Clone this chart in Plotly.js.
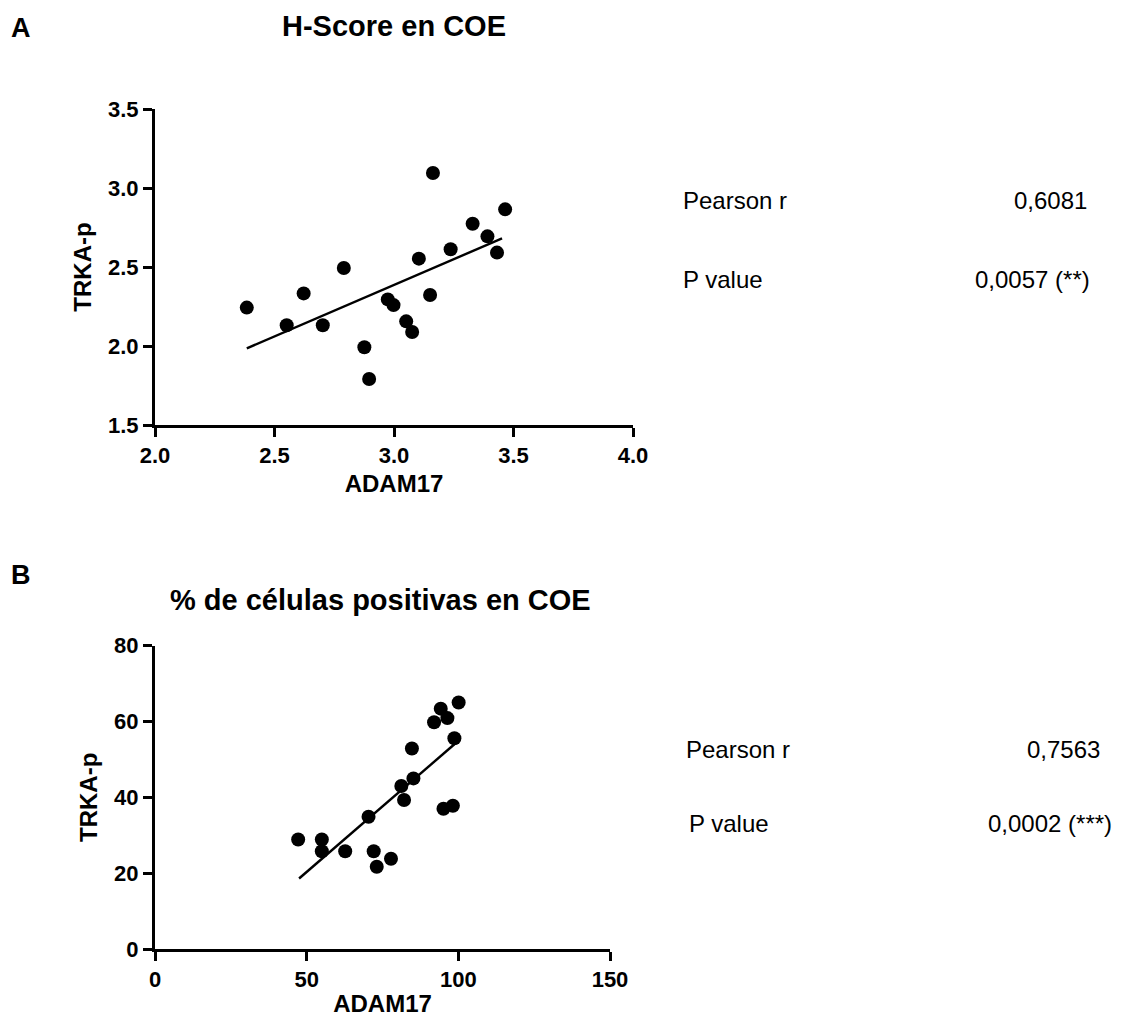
<!DOCTYPE html>
<html>
<head>
<meta charset="utf-8">
<script src="https://cdn.plot.ly/plotly-3.0.1.min.js"></script>
<style>
  html, body { margin: 0; padding: 0; background: #ffffff; }
  #chart { width: 1122px; height: 1017px; }
</style>
</head>
<body>
<div id="chart"></div>
<script>
// ---- Panel A: H-Score en COE ----
const hscoreADAM17 = [2.384, 2.551, 2.622, 2.702, 2.790, 2.876, 2.896, 2.974, 2.998, 3.051,
                      3.076, 3.104, 3.151, 3.163, 3.237, 3.329, 3.391, 3.431, 3.465];
const hscoreTRKAp  = [2.243, 2.131, 2.333, 2.131, 2.494, 1.992, 1.791, 2.295, 2.259, 2.156,
                      2.089, 2.553, 2.323, 3.095, 2.612, 2.774, 2.694, 2.591, 2.865];
const hscoreFitX = [2.384, 3.452];
const hscoreFitY = [1.985, 2.681];

// ---- Panel B: % de células positivas en COE ----
const pctADAM17 = [47.2, 55.0, 55.0, 62.7, 70.4, 72.1, 73.1, 77.8, 81.2, 82.1,
                   84.7, 85.2, 92.0, 94.2, 96.4, 95.1, 98.2, 98.7, 100.1];
const pctTRKAp  = [28.9, 28.9, 25.8, 25.8, 34.9, 25.8, 21.7, 23.8, 43.0, 39.3,
                   52.9, 45.0, 59.8, 63.4, 60.9, 37.0, 37.8, 55.6, 65.0];
const pctFitX = [47.5, 98.7];
const pctFitY = [18.6, 54.0];

// ---- Text ----
const panelLabels = ["A", "B"];
const panelTitles = ["H-Score en COE", "% de células positivas en COE"];
const xTitle = "ADAM17";
const yTitle = "TRKA-p";
const statNames = ["Pearson r", "P value"];
const statsA = ["0,6081", "0,0057 (**)"];
const statsB = ["0,7563", "0,0002 (***)"];

const W = 1122, H = 1017;
const px = v => v / W;
const py = v => 1 - v / H;

const FONT = "Liberation Sans, Arial, sans-serif";
const tickFont = { family: FONT, size: 22, color: "#000", weight: "bold" };
const titleFont = { family: FONT, size: 24, color: "#000", weight: "bold" };

function axisBase(extra) {
  return Object.assign({
    showline: true, linecolor: "#000", linewidth: 3,
    ticks: "outside", ticklen: 9, tickwidth: 3, tickcolor: "#000",
    showgrid: false, zeroline: false, tickfont: tickFont,
    fixedrange: true, automargin: false
  }, extra);
}

const traces = [
  { x: hscoreADAM17, y: hscoreTRKAp, type: "scatter", mode: "markers",
    marker: { size: 14, color: "#000" }, xaxis: "x", yaxis: "y", showlegend: false },
  { x: hscoreFitX, y: hscoreFitY, type: "scatter", mode: "lines",
    line: { color: "#000", width: 2.4 }, xaxis: "x", yaxis: "y", showlegend: false },
  { x: pctADAM17, y: pctTRKAp, type: "scatter", mode: "markers",
    marker: { size: 14, color: "#000" }, xaxis: "x2", yaxis: "y2", showlegend: false },
  { x: pctFitX, y: pctFitY, type: "scatter", mode: "lines",
    line: { color: "#000", width: 2.4 }, xaxis: "x2", yaxis: "y2", showlegend: false }
];

const annotations = [];
function addText(text, x, y, xanchor, size, bold) {
  annotations.push({
    text: text, xref: "paper", yref: "paper", x: px(x), y: py(y),
    xanchor: xanchor, yanchor: "middle", showarrow: false,
    font: { family: FONT, size: size, color: "#000", weight: bold ? "bold" : "normal" }
  });
}
// panel labels and titles
addText(panelLabels[0], 9, 28, "left", 27, true);
addText(panelLabels[1], 9, 575, "left", 27, true);
addText(panelTitles[0], 394, 26, "center", 29, true);
addText(panelTitles[1], 380, 600, "center", 29, true);
// stats
addText(statNames[0], 681, 200, "left", 24, false);
addText(statsA[0], 1089, 200, "right", 24, false);
addText(statNames[1], 681, 279, "left", 24, false);
addText(statsA[1], 1092, 279, "right", 24, false);
addText(statNames[0], 684, 749, "left", 24, false);
addText(statsB[0], 1102, 749, "right", 24, false);
addText(statNames[1], 687, 823, "left", 24, false);
addText(statsB[1], 1114, 823, "right", 24, false);

const layout = {
  width: W, height: H,
  margin: { l: 0, r: 0, t: 0, b: 0 },
  paper_bgcolor: "#fff", plot_bgcolor: "#fff",
  showlegend: false,
  xaxis: axisBase({ domain: [px(155), px(633)], range: [2, 4], dtick: 0.5, tick0: 2,
    tickformat: ".1f", anchor: "y",
    title: { text: xTitle, font: titleFont, standoff: 8 } }),
  yaxis: axisBase({ domain: [py(425), py(109)], range: [1.5, 3.5], dtick: 0.5, tick0: 1.5,
    tickformat: ".1f", anchor: "x",
    title: { text: yTitle, font: titleFont, standoff: 10 } }),
  xaxis2: axisBase({ domain: [px(155), px(610)], range: [0, 150], dtick: 50, tick0: 0,
    anchor: "y2",
    title: { text: xTitle, font: titleFont, standoff: 10 } }),
  yaxis2: axisBase({ domain: [py(949), py(645.7)], range: [0, 80], dtick: 20, tick0: 0,
    anchor: "x2",
    title: { text: yTitle, font: titleFont, standoff: 10 } }),
  annotations: annotations
};

Plotly.newPlot("chart", traces, layout, { staticPlot: true, displayModeBar: false });
</script>
</body>
</html>
